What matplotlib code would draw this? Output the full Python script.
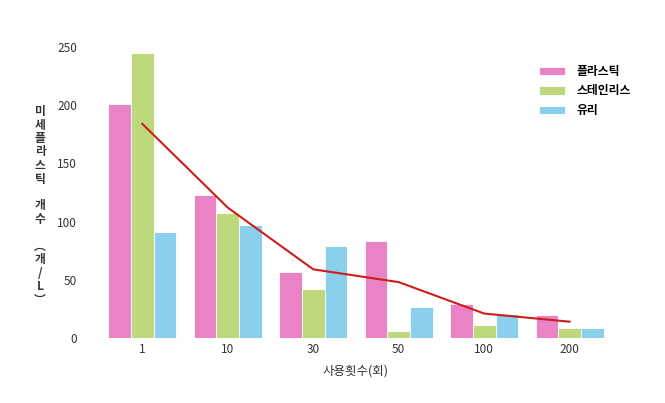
import numpy as np
import matplotlib.pyplot as plt

plt.rcParams['font.family'] = ['Noto Sans CJK KR', 'DejaVu Sans']

uses = ['1', '10', '30', '50', '100', '200']
plastic = [201, 123, 57, 83, 29, 20]
stainless = [245, 107, 42, 6, 11, 9]
glass = [91, 97, 79, 27, 21, 9]
trend = [184, 112, 59, 48, 21, 14]

fig = plt.figure(figsize=(6.65, 4.03), dpi=100)
ax = fig.add_axes([91 / 665, 65 / 403, 530 / 665, 310 / 403])

x = np.arange(len(uses))
w = 0.265
ax.bar(x - w, plastic, w, color='#EA83C6', edgecolor='white', linewidth=0.6, label='플라스틱')
ax.bar(x, stainless, w, color='#BED87C', edgecolor='white', linewidth=0.6, label='스테인리스')
ax.bar(x + w, glass, w, color='#8AD0EC', edgecolor='white', linewidth=0.6, label='유리')
ax.plot(x, trend, color='#CC1C1C', linewidth=1.5)

ax.set_xlim(-0.6, 5.6)
ax.set_ylim(0, 250 * 310 / 291)
ax.set_yticks([0, 50, 100, 150, 200, 250])
ax.set_xticks(x)
ax.set_xticklabels(uses)
ax.tick_params(length=0, labelsize=8.5, colors='#333333')
ax.tick_params(axis='y', pad=10)
for s in ax.spines.values():
    s.set_visible(False)

ax.set_xlabel('사용횟수(회)', fontsize=9, color='#333333', labelpad=6)

ylab = '미\n세\n플\n라\n스\n틱\n\n개\n수\n\n︵\n개\n/\nL\n︶'
fig.text(40 / 665, 197 / 403, ylab, ha='center', va='center', fontsize=8.5,
         fontweight='bold', color='#333333', linespacing=1.05)

ax.legend(loc='upper left', bbox_to_anchor=(0.825, 0.915), frameon=False,
          handlelength=2.2, handleheight=0.75, labelspacing=0.55, handletextpad=1.0,
          prop={'weight': 'bold', 'size': 8.5})

fig.savefig('out.png', dpi=100, facecolor='white')
